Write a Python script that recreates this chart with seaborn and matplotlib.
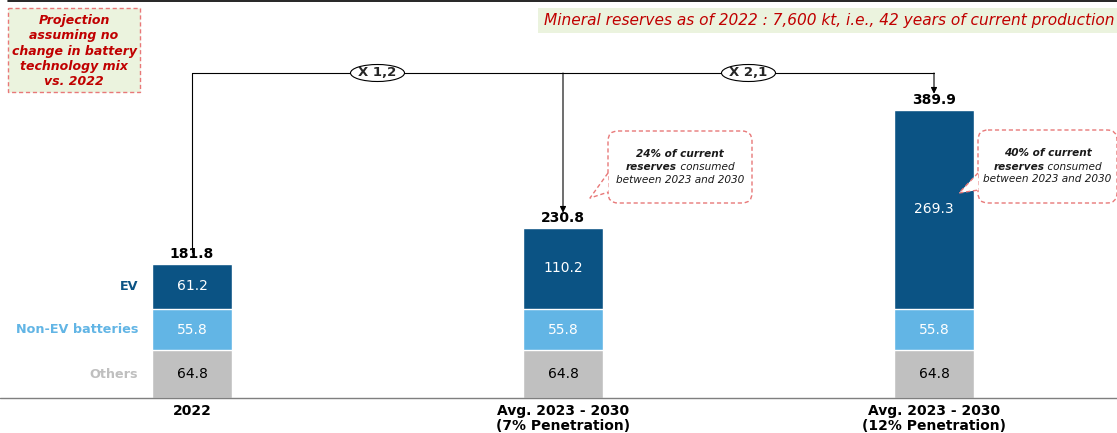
import matplotlib
matplotlib.use("Agg")
import matplotlib.pyplot as plt
import matplotlib.transforms as mtransforms
import pandas as pd
import seaborn as sns
from matplotlib.patches import FancyBboxPatch, Ellipse, Polygon, Rectangle
from matplotlib.lines import Line2D

# ---- data -------------------------------------------------------------
categories = ["2022", "Avg. 2023 - 2030\n(7% Penetration)", "Avg. 2023 - 2030\n(12% Penetration)"]
others = [64.8, 64.8, 64.8]
non_ev = [55.8, 55.8, 55.8]
ev = [61.2, 110.2, 269.3]
totals = [181.8, 230.8, 389.9]
segment_names = ["EV", "Non-EV batteries", "Others"]
growth_labels = ["X 1,2", "X 2,1"]
reserve_shares = ["24%", "40%"]
note_text = "Projection\nassuming no\nchange in battery\ntechnology mix\nvs. 2022"
reserves_text = "Mineral reserves as of 2022 : 7,600 kt, i.e., 42 years of current production"

# ---- style ------------------------------------------------------------
C_EV = "#0B5384"
C_NONEV = "#62B5E5"
C_OTHERS = "#C0C0C0"
C_RED = "#C00000"
C_DASH = "#E87878"
C_GREEN = "#EBF3DE"
DASH = (0, (3, 2))

sns.set_theme(style="white")
plt.rcParams["font.family"] = ["DejaVu Sans"]

W, H = 1117, 433
fig = plt.figure(figsize=(W / 100, H / 100), dpi=100)
ax = fig.add_axes([0, 0, 1, 1])

# pixel coordinates measured from the top-left corner of the figure
PX = mtransforms.Affine2D().scale(1, -1).translate(0, H).scale(1 / W, 1 / H) + fig.transFigure

df = pd.DataFrame({"category": categories, "others": others, "non_ev": non_ev, "ev": ev})
df["lvl2"] = df["others"] + df["non_ev"]
df["lvl3"] = df["lvl2"] + df["ev"]

bar_w = 0.218
# stacked bars: draw cumulative heights back to front
sns.barplot(data=df, x="category", y="lvl3", color=C_EV, width=bar_w, saturation=1, ax=ax)
sns.barplot(data=df, x="category", y="lvl2", color=C_NONEV, width=bar_w, saturation=1, ax=ax)
sns.barplot(data=df, x="category", y="others", color=C_OTHERS, width=bar_w, saturation=1, ax=ax)

# axes in pixel-aligned data space: bar centres 371 px apart, 0.7387 px per kt
x0_px, step_px = 192, 371
base_px, scale = 398, 0.7387
ax.set_xlim(-x0_px / step_px, (W - x0_px) / step_px)
ax.set_ylim(-(H - base_px) / scale, base_px / scale)
ax.axis("off")


def ydat(py):
    return (base_px - py) / scale


# baseline
ax.add_line(Line2D([ax.get_xlim()[0], ax.get_xlim()[1]], [0, 0], color="#7F7F7F", lw=1.0))
# thin rule at the very top
fig.add_artist(Line2D([8, W], [0.8, 0.8], transform=PX, color="black", lw=1.2))

# segment value labels
for i in range(len(categories)):
    ax.text(i, others[i] / 2, f"{others[i]:.1f}", ha="center", va="center", fontsize=10, color="black")
    ax.text(i, others[i] + non_ev[i] / 2, f"{non_ev[i]:.1f}", ha="center", va="center", fontsize=10, color="white")
    ax.text(i, others[i] + non_ev[i] + ev[i] / 2, f"{ev[i]:.1f}", ha="center", va="center", fontsize=10, color="white")
    ax.text(i, totals[i] + 4, f"{totals[i]:.1f}", ha="center", va="bottom", fontsize=10, fontweight="bold", color="black")
    ax.text(i, ydat(404), categories[i], ha="center", va="top", fontsize=10, fontweight="bold",
            color="black", linespacing=1.05)

# segment names on the left
seg_y = [others[0] + non_ev[0] + ev[0] / 2, others[0] + non_ev[0] / 2, others[0] / 2]
seg_c = [C_EV, C_NONEV, "#BFBFBF"]
for name, yv, c in zip(segment_names, seg_y, seg_c):
    ax.text(-0.145, yv, name, ha="right", va="center", fontsize=9.2, fontweight="bold", color=c)

# growth connectors
y_top = ydat(73)
ax.add_line(Line2D([0, 0], [totals[0] + 16, y_top], color="black", lw=0.8))
ax.add_line(Line2D([0, 2], [y_top, y_top], color="black", lw=0.8))
ax.annotate("", xy=(1, totals[1] + 20), xytext=(1, y_top),
            arrowprops=dict(arrowstyle="-|>", color="black", lw=0.8, mutation_scale=9, shrinkA=0, shrinkB=0))
ax.annotate("", xy=(2, totals[2] + 22), xytext=(2, y_top),
            arrowprops=dict(arrowstyle="-|>", color="black", lw=0.8, mutation_scale=9, shrinkA=0, shrinkB=0))
for k, lbl in enumerate(growth_labels):
    cx = k + 0.5
    ax.add_patch(Ellipse((cx, y_top), 54 / step_px, 17 / scale, facecolor="white", edgecolor="black", lw=0.8, zorder=5))
    ax.text(cx, y_top, lbl, ha="center", va="center", fontsize=9.5, fontweight="bold", zorder=6)

# note box, top left
fig.add_artist(Rectangle((8, 8), 132, 84, transform=PX, facecolor=C_GREEN, edgecolor=C_DASH,
                         lw=1.0, linestyle=DASH))
fig.text(74, 51, note_text, transform=PX, ha="center", va="center", fontsize=9, fontweight="bold",
         style="italic", color=C_RED, linespacing=1.22)

# reserves banner, top right
fig.add_artist(Rectangle((538, 8), W - 538, 25, transform=PX, facecolor=C_GREEN, edgecolor="none"))
fig.text(1114, 20, reserves_text, transform=PX, ha="right", va="center", fontsize=11.1, style="italic",
         color=C_RED)

renderer = fig.canvas.get_renderer()


def mixed_line(cx, py, parts, size=7.6):
    items = []
    for s, wgt in parts:
        items.append(fig.text(0, 0, s, transform=PX, fontsize=size, style="italic", fontweight=wgt,
                              va="center", ha="left", color="#1A1A1A", zorder=12))
    widths = [t.get_window_extent(renderer).width for t in items]
    x = cx - sum(widths) / 2
    for t, wd in zip(items, widths):
        t.set_position((x, py))
        x += wd


def callout(left, top, right, bottom, base1, base2, tip, share):
    box = FancyBboxPatch((left, top), right - left, bottom - top,
                         boxstyle="round,pad=0,rounding_size=10", transform=PX,
                         facecolor="white", edgecolor=C_DASH, lw=1.0, linestyle=DASH, zorder=7)
    fig.add_artist(box)
    fig.add_artist(Polygon([base1, tip, base2], closed=True, transform=PX,
                           facecolor="white", edgecolor="none", zorder=8))
    fig.add_artist(Line2D([base1[0], tip[0], base2[0]], [base1[1], tip[1], base2[1]], transform=PX,
                          color=C_DASH, lw=1.0, linestyle=DASH, zorder=9))
    cx = (left + right) / 2
    cy = (top + bottom) / 2
    mixed_line(cx, cy - 13, [(f"{share} of current", "bold")])
    mixed_line(cx, cy, [("reserves", "bold"), (" consumed", "normal")])
    mixed_line(cx, cy + 13, [("between 2023 and 2030", "normal")])


callout(608, 131, 752, 203, (608, 173), (608.5, 192), (590, 198), reserve_shares[0])
callout(978, 130, 1117, 203, (978, 173), (978.5, 190), (959, 193), reserve_shares[1])

fig.savefig("out.png", dpi=100)
